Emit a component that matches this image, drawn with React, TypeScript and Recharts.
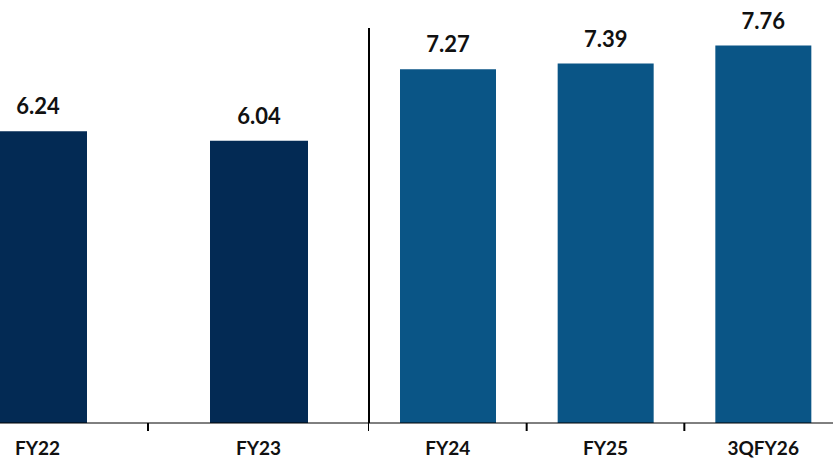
import React from 'react';
import { BarChart, Bar, XAxis, YAxis, LabelList } from 'recharts';

const leftCategories = ['FY22', 'FY23'];
const leftValues = [6.24, 6.04];
const rightCategories = ['FY24', 'FY25', '3QFY26'];
const rightValues = [7.27, 7.39, 7.76];

const H = 460;
const AXIS_H = 37;
const FONT = 'Lato, "Open Sans", sans-serif';

const leftData = leftCategories.map((name, i) => ({ name, value: leftValues[i] }));
const rightData = rightCategories.map((name, i) => ({ name, value: rightValues[i] }));

function makeTick(band: number) {
  return function Tick(props: any) {
    const { x, y, payload } = props;
    return (
      <g>
        <line x1={x + band / 2} x2={x + band / 2} y1={y} y2={y + 8} stroke="#000" strokeWidth={2} />
        <text x={x} y={y + 32} textAnchor="middle" fontFamily={FONT} fontWeight={700} fontSize={19} fill="#111">
          {payload.value}
        </text>
      </g>
    );
  };
}

const valueLabel = (props: any) => {
  const { x, y, width, value } = props;
  return (
    <text x={x + width / 2} y={y - 17} textAnchor="middle" fontFamily={FONT} fontWeight={700} fontSize={22} fill="#111">
      {Number(value).toFixed(2)}
    </text>
  );
};

export default function App() {
  const leftW = 442;
  const rightPlotW = 473;
  const yAxisW = 2;
  return (
    <div style={{ position: 'absolute', left: 0, top: 0, width: 833, height: H, overflow: 'hidden', background: '#fff' }}>
      <div style={{ position: 'absolute', left: -73, top: 0 }}>
        <BarChart width={leftW} height={H} data={leftData} margin={{ top: 49, right: 0, bottom: 0, left: 0 }}>
          <XAxis
            dataKey="name"
            height={AXIS_H}
            tickSize={0}
            tickMargin={0}
            axisLine={{ stroke: '#000', strokeWidth: 1 }}
            tick={makeTick(leftW / leftCategories.length)}
            interval={0}
          />
          <YAxis hide domain={[0, 8]} />
          <Bar dataKey="value" fill="#032a54" barSize={98} isAnimationActive={false}>
            <LabelList dataKey="value" content={valueLabel} />
          </Bar>
        </BarChart>
      </div>
      <div style={{ position: 'absolute', left: 369 - yAxisW, top: 0 }}>
        <BarChart width={rightPlotW + yAxisW} height={H} data={rightData} margin={{ top: 28, right: 0, bottom: 0, left: 0 }}>
          <XAxis
            dataKey="name"
            height={AXIS_H}
            tickSize={0}
            tickMargin={0}
            axisLine={{ stroke: '#000', strokeWidth: 1 }}
            tick={makeTick(rightPlotW / rightCategories.length)}
            interval={0}
          />
          <YAxis
            width={yAxisW}
            domain={[0, 8.12]}
            tick={false}
            tickLine={false}
            axisLine={{ stroke: '#000', strokeWidth: 2 }}
          />
          <Bar dataKey="value" fill="#0a5586" barSize={96} isAnimationActive={false}>
            <LabelList dataKey="value" content={valueLabel} />
          </Bar>
        </BarChart>
      </div>
    </div>
  );
}
